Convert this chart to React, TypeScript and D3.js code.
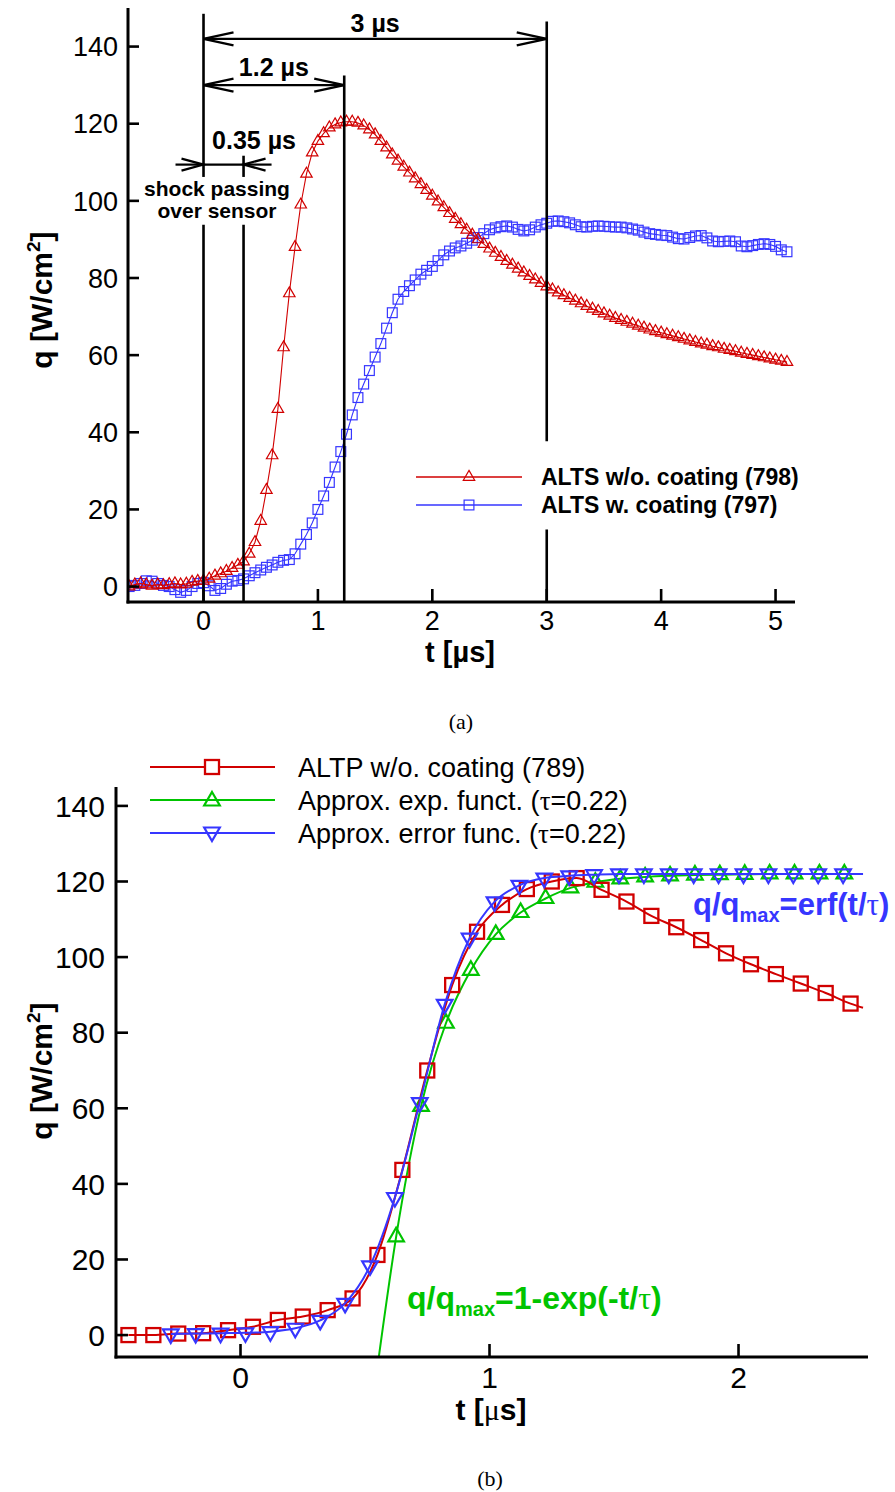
import React from "react";
import * as d3 from "d3";

// ---------- (a) top chart data ----------
const topTime = [
  -0.65, -0.6, -0.55, -0.5, -0.45, -0.4, -0.35, -0.3, -0.25, -0.2, -0.15, -0.1, -0.05,
  0.0, 0.05, 0.1, 0.15, 0.2, 0.25, 0.3, 0.35, 0.4, 0.45, 0.5, 0.55, 0.6, 0.65, 0.7, 0.75,
  0.8, 0.85, 0.9, 0.95, 1.0, 1.05, 1.1, 1.15, 1.2, 1.25, 1.3, 1.35, 1.4, 1.45, 1.5, 1.55,
  1.6, 1.65, 1.7, 1.75, 1.8, 1.85, 1.9, 1.95, 2.0, 2.05, 2.1, 2.15, 2.2, 2.25, 2.3, 2.35,
  2.4, 2.45, 2.5, 2.55, 2.6, 2.65, 2.7, 2.75, 2.8, 2.85, 2.9, 2.95, 3.0, 3.05, 3.1, 3.15,
  3.2, 3.25, 3.3, 3.35, 3.4, 3.45, 3.5, 3.55, 3.6, 3.65, 3.7, 3.75, 3.8, 3.85, 3.9, 3.95,
  4.0, 4.05, 4.1, 4.15, 4.2, 4.25, 4.3, 4.35, 4.4, 4.45, 4.5, 4.55, 4.6, 4.65, 4.7, 4.75,
  4.8, 4.85, 4.9, 4.95, 5.0, 5.05, 5.1,
];
const altsNoCoating798 = [
  0.0, 0.5, 0.8, 0.5, 0.2, 0.5, 0.3, 0.6, 0.8, 0.5, 0.7, 1.2, 1.4,
  1.5, 2.0, 2.8, 3.4, 4.0, 4.8, 5.6, 6.5, 8.5, 11.5, 17, 25, 34, 46, 62, 76,
  88, 99, 107, 112.5, 115.5, 117.5, 119, 119.8, 120.3, 120.5, 120.5, 120.2, 119.5, 118.5, 117.2, 115.5,
  113.8, 112, 110.4, 108.8, 107.3, 105.8, 104.3, 102.8, 101.3, 99.8, 98.3, 96.8, 95.3, 93.9, 92.5, 91.2,
  90, 88.8, 87.6, 86.5, 85.4, 84.4, 83.4, 82.4, 81.4, 80.5, 79.6, 78.7, 77.8, 77.0, 76.2, 75.5,
  74.8, 74.1, 73.4, 72.7, 72.0, 71.4, 70.8, 70.2, 69.6, 69.1, 68.6, 68.1, 67.6, 67.1, 66.6, 66.2,
  65.8, 65.4, 65.0, 64.6, 64.2, 63.8, 63.4, 63.0, 62.7, 62.3, 62.0, 61.6, 61.3, 61.0, 60.6, 60.3,
  60.0, 59.7, 59.4, 59.1, 58.8, 58.5, 58.2,
];
const altsCoating797 = [
  0.0, 0.3, 0.8, 1.5, 1.4, 0.8, 0.3, 0.0, -0.8, -1.5, -1.0, 0.0, 0.8,
  1.0, 0.2, -1.0, -0.5, 0.6, 1.4, 1.6, 2.0, 2.8, 3.6, 4.3, 5.0, 5.6, 6.3, 6.8, 7.0,
  8.5, 11.0, 13.5, 16.5, 20.0, 23.5, 27.0, 31.0, 35.0, 39.5, 44.5, 49.0, 52.5, 56.0, 59.5, 63.0,
  67.0, 71.0, 74.5, 76.5, 78.0, 79.5, 81.0, 82.0, 83.0, 84.5, 86.0, 87.0, 87.8, 88.3, 89.0, 89.8,
  90.5, 91.5, 92.5, 93.0, 93.3, 93.5, 93.2, 92.6, 92.2, 92.5, 93.2, 93.8, 94.2, 94.7, 94.8, 94.6,
  94.3, 93.8, 93.3, 93.2, 93.4, 93.5, 93.4, 93.3, 93.2, 93.2, 93.0, 92.7, 92.4, 91.9, 91.5, 91.3,
  91.1, 91.0, 90.6, 90.2, 90.1, 90.5, 90.9, 91.0, 90.4, 89.6, 89.4, 89.5, 89.6, 89.4, 88.3, 88.1,
  88.4, 88.7, 88.9, 88.7, 88.2, 87.3, 86.8,
];
const topXTicks = [0, 1, 2, 3, 4, 5];
const topYTicks = [0, 20, 40, 60, 80, 100, 120, 140];
const topLegend = ["ALTS w/o. coating (798)", "ALTS w. coating (797)"];

// vertical reference lines (t) with the q-spans they cover
const refLines = [
  { t: 0, spans: [[148.5, 106.2], [93.8, -4]] },
  { t: 0.35, spans: [[111.7, 106.2], [93.8, -4]] },
  { t: 1.23, spans: [[132.5, -4]] },
  { t: 3, spans: [[146.5, 37.7], [14.8, -4]] },
];
const spanArrows = [
  { from: 0, to: 3, q: 142, label: "3 µs" },
  { from: 0, to: 1.23, q: 130, label: "1.2 µs" },
];
const shockArrow = { from: 0, to: 0.35, q: 109.4, label: "0.35 µs" };
const shockText = ["shock passing", "over sensor"];

// ---------- (b) bottom chart data ----------
const bottomXTicks = [0, 1, 2];
const bottomYTicks = [0, 20, 40, 60, 80, 100, 120, 140];
const altpTime = [
  -0.45, -0.35, -0.25, -0.15, -0.05, 0.05, 0.15, 0.25, 0.35, 0.45, 0.55, 0.65, 0.75, 0.85, 0.95,
  1.05, 1.15, 1.25, 1.35, 1.45, 1.55, 1.65, 1.75, 1.85, 1.95, 2.05, 2.15, 2.25, 2.35, 2.45,
];
const altp789 = [
  0, 0, 0.4, 0.5, 1.3, 2.2, 4.0, 4.9, 6.6, 9.7, 21.2, 43.7, 70, 92.6, 106.7,
  113.8, 118, 120, 120.9, 117.8, 114.7, 110.9, 107.9, 104.5, 101, 98.1, 95.5, 93, 90.5, 87.7,
];
const altpTail = { t: 2.5, q: 86.6 };
const expTime = [
  0.625, 0.725, 0.825, 0.925, 1.025, 1.125, 1.225, 1.325, 1.425, 1.525, 1.625, 1.725, 1.825,
  1.925, 2.025, 2.125, 2.225, 2.325, 2.425,
];
const expApprox = [
  26, 60.5, 82.5, 96.5, 106, 111.8, 115.5, 118.3, 119.8, 120.7, 121.2, 121.5, 121.7,
  121.8, 121.9, 122, 122, 122, 122,
];
const expHead = { t: 0.555, q: -6 };
const expTail = { t: 2.5, q: 122 };
const erfTime = [
  -0.28, -0.18, -0.08, 0.02, 0.12, 0.22, 0.32, 0.42, 0.52, 0.62, 0.72, 0.82, 0.92, 1.02,
  1.12, 1.22, 1.32, 1.42, 1.52, 1.62, 1.72, 1.82, 1.92, 2.02, 2.12, 2.22, 2.32, 2.42,
];
const erfApprox = [
  0.3, 0.4, 0.5, 0.6, 0.9, 1.8, 3.9, 8.4, 18.3, 36.4, 61.5, 87.5, 105, 114.6,
  119, 120.9, 121.5, 121.8, 122, 122, 122, 122, 122, 122, 122, 122, 122, 122,
];
const erfTail = { t: 2.5, q: 122 };

const RED = "#d10000";
const BLUE = "#3636ff";
const GREEN = "#00c400";
const SANS = "'Liberation Sans', Arial, Helvetica, sans-serif";
const SERIF = "'Liberation Serif', 'Times New Roman', serif";

const W = 895;
const H = 1492;

type P = { t: number; q: number };
const zip = (t: number[], q: number[]): P[] => t.map((v, i) => ({ t: v, q: q[i] }));

function triPath(r: number, down: boolean) {
  const s = down ? -1 : 1;
  const h = r * 0.866;
  return `M0,${-r * s}L${h},${(r / 2) * s}L${-h},${(r / 2) * s}Z`;
}

function chevron(x: number, y: number, dir: number, len: number, w: number) {
  return `M${x - dir * len},${y - w}L${x},${y}L${x - dir * len},${y + w}`;
}

export default function App() {
  // ---- top scales
  const xT = d3.scaleLinear().domain([-0.66, 5.17]).range([128, 795]);
  const yT = d3.scaleLinear().domain([-4, 150]).range([602, 8]);
  const lineT = d3
    .line<P>()
    .x((d) => xT(d.t))
    .y((d) => yT(d.q));
  const red798 = zip(topTime, altsNoCoating798);
  const blue797 = zip(topTime, altsCoating797);

  // ---- bottom scales
  const xB = d3.scaleLinear().domain([-0.5, 2.52]).range([116, 868]);
  const yB = d3.scaleLinear().domain([-5.8, 145]).range([1357, 787]);
  const lineB = d3
    .line<P>()
    .x((d) => xB(d.t))
    .y((d) => yB(d.q))
    .curve(d3.curveMonotoneX);
  const altp = zip(altpTime, altp789);
  const expA = zip(expTime, expApprox);
  const erfA = zip(erfTime, erfApprox);

  const topTri = triPath(6.6, false);
  const topSq = 4.9;
  const botUp = triPath(9, false);
  const botDown = triPath(9, true);
  const botSq = 7;

  const x0 = xT(shockArrow.from);
  const x35 = xT(shockArrow.to);
  const yS = yT(shockArrow.q);

  return (
    <svg
      width={W}
      height={H}
      viewBox={`0 0 ${W} ${H}`}
      style={{ position: "absolute", left: 0, top: 0, background: "#fff" }}
      fontFamily={SANS}
    >
      <rect x={0} y={0} width={W} height={H} fill="#fff" />
      <defs>
        <clipPath id="clipTop">
          <rect x={128} y={0} width={700} height={602} />
        </clipPath>
        <clipPath id="clipBot">
          <rect x={116} y={780} width={760} height={577} />
        </clipPath>
      </defs>

      {/* ================= (a) ================= */}
      <g clipPath="url(#clipTop)">
        <path d={lineT(blue797) || ""} fill="none" stroke={BLUE} strokeWidth={1.1} />
        {blue797.map((d, i) => (
          <rect
            key={"bs" + i}
            x={xT(d.t) - topSq}
            y={yT(d.q) - topSq}
            width={topSq * 2}
            height={topSq * 2}
            fill="none"
            stroke={BLUE}
            strokeWidth={1.2}
          />
        ))}
        <path d={lineT(red798) || ""} fill="none" stroke={RED} strokeWidth={1.1} />
        {red798.map((d, i) => (
          <path
            key={"rt" + i}
            d={topTri}
            transform={`translate(${xT(d.t)},${yT(d.q)})`}
            fill="none"
            stroke={RED}
            strokeWidth={1.2}
          />
        ))}
      </g>

      {/* reference lines */}
      {refLines.map((l, i) =>
        l.spans.map((s, j) => (
          <line
            key={`rl${i}-${j}`}
            x1={xT(l.t)}
            x2={xT(l.t)}
            y1={yT(s[0])}
            y2={yT(s[1])}
            stroke="#000"
            strokeWidth={2.6}
          />
        ))
      )}

      {/* span arrows */}
      {spanArrows.map((a, i) => {
        const xa = xT(a.from);
        const xb = xT(a.to);
        const y = yT(a.q);
        return (
          <g key={"sa" + i}>
            <line x1={xa} x2={xb} y1={y} y2={y} stroke="#000" strokeWidth={2.4} />
            <path d={chevron(xa, y, -1, 30, 6.5)} fill="none" stroke="#000" strokeWidth={2.4} />
            <path d={chevron(xb, y, 1, 30, 6.5)} fill="none" stroke="#000" strokeWidth={2.4} />
            <text
              x={(xa + xb) / 2}
              y={y - (i === 0 ? 7 : 9)}
              textAnchor="middle"
              fontWeight="bold"
              fontSize={25}
            >
              {a.label}
            </text>
          </g>
        );
      })}

      {/* 0.35 µs shock arrows */}
      <g>
        <line x1={x0} x2={x35} y1={yS} y2={yS} stroke="#000" strokeWidth={2.2} />
        <line x1={x0 - 28} x2={x0} y1={yS} y2={yS} stroke="#000" strokeWidth={2.2} />
        <path d={chevron(x0, yS, 1, 22, 6)} fill="none" stroke="#000" strokeWidth={2.2} />
        <line x1={x35} x2={x35 + 28} y1={yS} y2={yS} stroke="#000" strokeWidth={2.2} />
        <path d={chevron(x35, yS, -1, 22, 6)} fill="none" stroke="#000" strokeWidth={2.2} />
        <text x={254} y={yS - 16} textAnchor="middle" fontWeight="bold" fontSize={25}>
          {shockArrow.label}
        </text>
        <text x={217} y={yS + 31} textAnchor="middle" fontWeight="bold" fontSize={21}>
          {shockText[0]}
        </text>
        <text x={217} y={yS + 53} textAnchor="middle" fontWeight="bold" fontSize={21}>
          {shockText[1]}
        </text>
      </g>

      {/* top legend */}
      <g>
        <line x1={416} x2={522} y1={477} y2={477} stroke={RED} strokeWidth={1.4} />
        <path d={topTri} transform="translate(469,477)" fill="none" stroke={RED} strokeWidth={1.2} />
        <line x1={416} x2={522} y1={505} y2={505} stroke={BLUE} strokeWidth={1.4} />
        <rect x={469 - topSq} y={505 - topSq} width={topSq * 2} height={topSq * 2} fill="none" stroke={BLUE} strokeWidth={1.2} />
        <text x={541} y={485} fontWeight="bold" fontSize={23}>
          {topLegend[0]}
        </text>
        <text x={541} y={513} fontWeight="bold" fontSize={23}>
          {topLegend[1]}
        </text>
      </g>

      {/* top axes */}
      <g>
        <line x1={128} x2={128} y1={8} y2={603.5} stroke="#000" strokeWidth={3} />
        <line x1={126.5} x2={795} y1={602} y2={602} stroke="#000" strokeWidth={3} />
        {topYTicks.map((v) => (
          <g key={"ty" + v}>
            <line x1={128} x2={139} y1={yT(v)} y2={yT(v)} stroke="#000" strokeWidth={2.6} />
            <text x={118} y={yT(v)} dy="0.36em" textAnchor="end" fontSize={27}>
              {v}
            </text>
          </g>
        ))}
        {topXTicks.map((v) => (
          <g key={"tx" + v}>
            <line x1={xT(v)} x2={xT(v)} y1={602} y2={589} stroke="#000" strokeWidth={2.6} />
            <text x={xT(v)} y={630} textAnchor="middle" fontSize={27}>
              {v}
            </text>
          </g>
        ))}
        <text x={460} y={662} textAnchor="middle" fontWeight="bold" fontSize={29}>
          t [µs]
        </text>
        <text
          transform="translate(52,300) rotate(-90)"
          textAnchor="middle"
          fontWeight="bold"
          fontSize={30}
        >
          q [W/cm
          <tspan fontSize={19} dy={-12}>
            2
          </tspan>
          <tspan dy={12}>]</tspan>
        </text>
        <text x={461} y={729} textAnchor="middle" fontFamily={SERIF} fontSize={22}>
          (a)
        </text>
      </g>

      {/* ================= (b) ================= */}
      <g clipPath="url(#clipBot)">
        <path
          d={lineB([expHead, ...expA, expTail]) || ""}
          fill="none"
          stroke={GREEN}
          strokeWidth={2}
        />
        {expA.map((d, i) => (
          <path
            key={"ga" + i}
            d={botUp}
            transform={`translate(${xB(d.t)},${yB(d.q)})`}
            fill="none"
            stroke={GREEN}
            strokeWidth={2.2}
          />
        ))}
        <path d={lineB([...altp, altpTail]) || ""} fill="none" stroke={RED} strokeWidth={2} />
        {altp.map((d, i) => (
          <rect
            key={"rq" + i}
            x={xB(d.t) - botSq}
            y={yB(d.q) - botSq}
            width={botSq * 2}
            height={botSq * 2}
            fill="none"
            stroke={RED}
            strokeWidth={2.3}
          />
        ))}
        <path d={lineB([...erfA, erfTail]) || ""} fill="none" stroke={BLUE} strokeWidth={2} />
        {erfA.map((d, i) => (
          <path
            key={"be" + i}
            d={botDown}
            transform={`translate(${xB(d.t)},${yB(d.q)})`}
            fill="none"
            stroke={BLUE}
            strokeWidth={2.2}
          />
        ))}
      </g>

      {/* bottom legend */}
      <g>
        <line x1={150} x2={275} y1={767} y2={767} stroke={RED} strokeWidth={2} />
        <rect x={212 - botSq} y={767 - botSq} width={botSq * 2} height={botSq * 2} fill="#fff" stroke={RED} strokeWidth={2.3} />
        <line x1={150} x2={275} y1={800} y2={800} stroke={GREEN} strokeWidth={2} />
        <path d={botUp} transform="translate(212,801)" fill="none" stroke={GREEN} strokeWidth={2.2} />
        <line x1={150} x2={275} y1={833} y2={833} stroke={BLUE} strokeWidth={2} />
        <path d={botDown} transform="translate(212,832)" fill="none" stroke={BLUE} strokeWidth={2.2} />
        <text x={298} y={777} fontSize={27}>
          ALTP w/o. coating (789)
        </text>
        <text x={298} y={810} fontSize={27}>
          Approx. exp. funct. (<tspan fontFamily={SERIF}>τ</tspan>=0.22)
        </text>
        <text x={298} y={843} fontSize={27}>
          Approx. error func. (<tspan fontFamily={SERIF}>τ</tspan>=0.22)
        </text>
      </g>

      {/* formulas */}
      <text x={693} y={915} fill={BLUE} fontWeight="bold" fontSize={31}>
        q/q<tspan fontSize={20} dy={7}>max</tspan>
        <tspan dy={-7}>=erf(t/</tspan>
        <tspan fontFamily={SERIF} fontWeight="normal">τ</tspan>)
      </text>
      <text x={407} y={1309} fill={GREEN} fontWeight="bold" fontSize={32}>
        q/q<tspan fontSize={20} dy={7}>max</tspan>
        <tspan dy={-7}>=1-exp(-t/</tspan>
        <tspan fontFamily={SERIF} fontWeight="normal">τ</tspan>)
      </text>

      {/* bottom axes */}
      <g>
        <line x1={116} x2={116} y1={787} y2={1358.5} stroke="#000" strokeWidth={3} />
        <line x1={114.5} x2={868} y1={1357} y2={1357} stroke="#000" strokeWidth={3} />
        {bottomYTicks.map((v) => (
          <g key={"by" + v}>
            <line x1={116} x2={128} y1={yB(v)} y2={yB(v)} stroke="#000" strokeWidth={2.6} />
            <text x={105} y={yB(v)} dy="0.36em" textAnchor="end" fontSize={30}>
              {v}
            </text>
          </g>
        ))}
        {bottomXTicks.map((v) => (
          <g key={"bx" + v}>
            <line x1={xB(v)} x2={xB(v)} y1={1357} y2={1344} stroke="#000" strokeWidth={2.6} />
            <text x={xB(v)} y={1388} textAnchor="middle" fontSize={30}>
              {v}
            </text>
          </g>
        ))}
        <text x={491} y={1420} textAnchor="middle" fontWeight="bold" fontSize={30}>
          t [<tspan fontFamily={SERIF} fontWeight="normal">μ</tspan>s]
        </text>
        <text
          transform="translate(52,1071) rotate(-90)"
          textAnchor="middle"
          fontWeight="bold"
          fontSize={30}
        >
          q [W/cm
          <tspan fontSize={19} dy={-12}>
            2
          </tspan>
          <tspan dy={12}>]</tspan>
        </text>
        <text x={490} y={1486} textAnchor="middle" fontFamily={SERIF} fontSize={22}>
          (b)
        </text>
      </g>
    </svg>
  );
}
